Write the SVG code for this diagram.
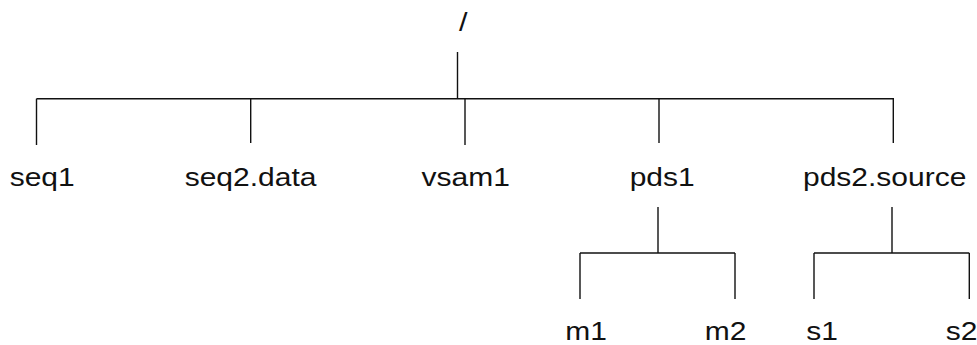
<svg xmlns="http://www.w3.org/2000/svg" width="977" height="345" viewBox="0 0 977 345">
  <style>
    .bg { fill: #ffffff; }
    .edge { fill: none; stroke: #111111; stroke-width: 1.4; stroke-linecap: butt; }
    .label { font-family: "Liberation Sans", Arial, Helvetica, sans-serif; font-size: 25px; fill: #111111; }
  </style>
  <rect class="bg" x="0" y="0" width="977" height="345"/>

  <!-- tree connectors -->
  <g id="connectors">
    <path class="edge" d="M457.5 52 V98.7"/>
    <path class="edge" d="M36.5 98.7 H894"/>
    <path class="edge" d="M36.5 98.7 V145"/>
    <path class="edge" d="M250.7 98.7 V143"/>
    <path class="edge" d="M465 98.7 V145"/>
    <path class="edge" d="M659 98.7 V143"/>
    <path class="edge" d="M893.3 98.7 V143"/>

    <path class="edge" d="M658 207 V253"/>
    <path class="edge" d="M580 253 H735"/>
    <path class="edge" d="M580 253 V299"/>
    <path class="edge" d="M735 253 V299"/>

    <path class="edge" d="M892 207 V253"/>
    <path class="edge" d="M814 253 H969.3"/>
    <path class="edge" d="M814 253 V299"/>
    <path class="edge" d="M969.3 253 V299"/>
  </g>

  <!-- nodes -->
  <g id="root"><text class="label" x="459" y="31" textLength="8.5" lengthAdjust="spacingAndGlyphs">/</text></g>
  <g id="seq1"><text class="label" x="9.7" y="186" textLength="65" lengthAdjust="spacingAndGlyphs">seq1</text></g>
  <g id="seq2-data"><text class="label" x="184.7" y="186" textLength="131.8" lengthAdjust="spacingAndGlyphs">seq2.data</text></g>
  <g id="vsam1"><text class="label" x="421.5" y="186" textLength="88.4" lengthAdjust="spacingAndGlyphs">vsam1</text></g>
  <g id="pds1"><text class="label" x="629.7" y="186" textLength="65" lengthAdjust="spacingAndGlyphs">pds1</text></g>
  <g id="pds2-source"><text class="label" x="803" y="186" textLength="163.4" lengthAdjust="spacingAndGlyphs">pds2.source</text></g>
  <g id="m1"><text class="label" x="565.3" y="340" textLength="41.7" lengthAdjust="spacingAndGlyphs">m1</text></g>
  <g id="m2"><text class="label" x="704.7" y="340" textLength="41.7" lengthAdjust="spacingAndGlyphs">m2</text></g>
  <g id="s1"><text class="label" x="806.3" y="340" textLength="31.7" lengthAdjust="spacingAndGlyphs">s1</text></g>
  <g id="s2"><text class="label" x="945.7" y="340" textLength="31.7" lengthAdjust="spacingAndGlyphs">s2</text></g>
</svg>
